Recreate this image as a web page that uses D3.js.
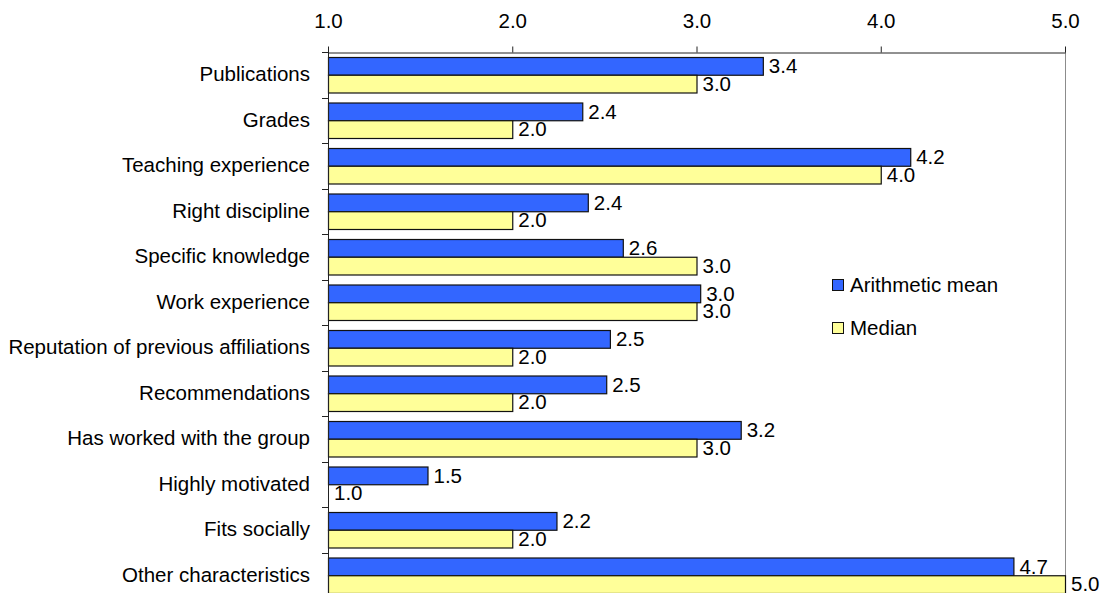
<!DOCTYPE html>
<html>
<head>
<meta charset="utf-8">
<script src="https://cdn.jsdelivr.net/npm/d3@7"></script>
<style>
  html, body { margin: 0; padding: 0; background: #ffffff; }
  svg { display: block; }
  text { font-family: "Liberation Sans", Arial, sans-serif; fill: #000; }
</style>
</head>
<body>
<svg id="chart" width="1104" height="593"></svg>
<script>
// Ratings of candidate characteristics (1 = most important, 5 = least)
const categories = [
  "Publications",
  "Grades",
  "Teaching experience",
  "Right discipline",
  "Specific knowledge",
  "Work experience",
  "Reputation of previous affiliations",
  "Recommendations",
  "Has worked with the group",
  "Highly motivated",
  "Fits socially",
  "Other characteristics"
];
const meanValues   = [3.36, 2.38, 4.16, 2.41, 2.60, 3.02, 2.53, 2.51, 3.24, 1.54, 2.24, 4.72];
const medianValues = [3.0, 2.0, 4.0, 2.0, 3.0, 3.0, 2.0, 2.0, 3.0, 1.0, 2.0, 5.0];
const seriesNames  = ["Arithmetic mean", "Median"];
const seriesColors = ["#3366ff", "#ffff99"];
const xTicks = [1, 2, 3, 4, 5];

const svg = d3.select("#chart");
const plotLeft = 328, plotRight = 1065, plotTop = 52, plotBottom = 598;
const fontSize = 20.5;

const x = d3.scaleLinear().domain([1, 5]).range([plotLeft, plotRight]);
const y = d3.scaleBand().domain(categories).range([plotTop, plotBottom])
  .paddingInner(0.22).paddingOuter(0.11);
const ySub = d3.scaleBand().domain(seriesNames).range([0, y.bandwidth()]);
const step = y.step();

const rows = categories.map((c, i) => ({
  cat: c,
  vals: [meanValues[i], medianValues[i]]
}));

// right border of the plot
svg.append("line")
  .attr("x1", plotRight + 0.5).attr("x2", plotRight + 0.5)
  .attr("y1", plotTop).attr("y2", plotBottom)
  .attr("stroke", "#8c8c8c").attr("stroke-width", 1);

// bars
const groups = svg.append("g").selectAll("g")
  .data(rows).join("g")
  .attr("transform", d => `translate(0,${y(d.cat)})`);

groups.selectAll("rect")
  .data(d => d.vals.map((v, k) => ({ v, k })).filter(e => e.v > 1))
  .join("rect")
  .attr("x", x(1) + 0.5)
  .attr("y", d => ySub(seriesNames[d.k]) + 0.5)
  .attr("width", d => x(d.v) - x(1))
  .attr("height", ySub.bandwidth())
  .attr("fill", d => seriesColors[d.k])
  .attr("stroke", "#111")
  .attr("stroke-width", 1.2);

// value labels
groups.selectAll("text")
  .data(d => d.vals.map((v, k) => ({ v, k })))
  .join("text")
  .attr("x", d => x(d.v) + 6)
  .attr("y", d => ySub(seriesNames[d.k]) + ySub.bandwidth() / 2)
  .attr("dy", "0.35em")
  .attr("font-size", fontSize)
  .text(d => d3.format(".1f")(d.v));

// top axis
const xAxis = d3.axisTop(x).tickValues(xTicks).tickFormat(d3.format(".1f"))
  .tickSize(6).tickSizeOuter(0).tickPadding(19);
const gx = svg.append("g").attr("transform", `translate(0,${plotTop + 0.5})`).call(xAxis);
gx.select(".domain").attr("stroke", "#222");
gx.selectAll(".tick line").attr("stroke", "#222");
gx.selectAll(".tick text").attr("font-size", fontSize)
  .attr("font-family", "Liberation Sans, Arial, sans-serif").attr("fill", "#000");

// left axis line with ticks between categories
svg.append("line")
  .attr("x1", plotLeft + 0.5).attr("x2", plotLeft + 0.5)
  .attr("y1", plotTop).attr("y2", plotBottom)
  .attr("stroke", "#222");
svg.append("g").selectAll("line")
  .data(d3.range(categories.length + 1))
  .join("line")
  .attr("x1", plotLeft - 6).attr("x2", plotLeft)
  .attr("y1", i => Math.round(plotTop + i * step) + 0.5)
  .attr("y2", i => Math.round(plotTop + i * step) + 0.5)
  .attr("stroke", "#222");

// category labels
svg.append("g").selectAll("text")
  .data(categories).join("text")
  .attr("x", plotLeft - 18)
  .attr("y", d => y(d) + y.bandwidth() / 2)
  .attr("dy", "0.32em")
  .attr("text-anchor", "end")
  .attr("font-size", fontSize)
  .text(d => d);

// legend
const legend = svg.append("g").attr("transform", "translate(832,279)");
const items = legend.selectAll("g").data(seriesNames).join("g")
  .attr("transform", (d, i) => `translate(0,${i * 43})`);
items.append("rect")
  .attr("x", 0.5).attr("y", 0.5).attr("width", 11).attr("height", 11)
  .attr("fill", (d, i) => seriesColors[i])
  .attr("stroke", "#111");
items.append("text")
  .attr("x", 18).attr("y", 6).attr("dy", "0.35em")
  .attr("font-size", fontSize)
  .text(d => d);
</script>
</body>
</html>
